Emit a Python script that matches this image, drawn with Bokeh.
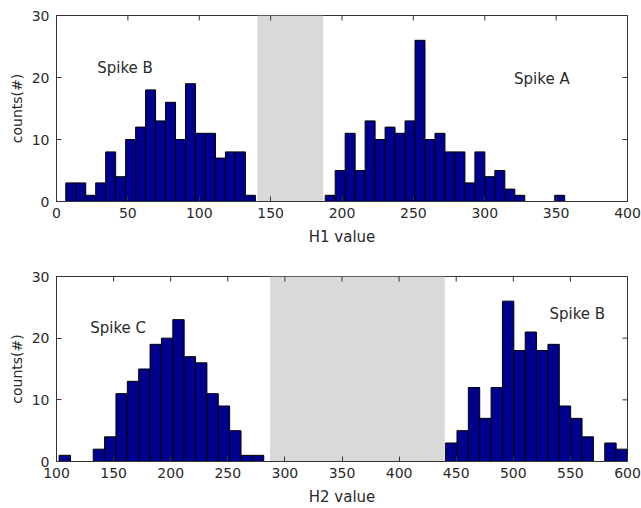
import numpy as np
from bokeh.plotting import figure
from bokeh.models import Range1d, FixedTicker, BoxAnnotation, Label
from bokeh.layouts import column
from bokeh.embed import file_html
from bokeh.resources import INLINE

# ---------------- data ----------------
# H1 histogram: 50 equal bins between min and max value
h1_min, h1_max = 6.5, 356.0
h1_counts = [3, 3, 1, 3, 8, 4, 10, 12, 18, 13, 16, 10, 19, 11, 11, 7, 8, 8, 1,
             0, 0, 0, 0, 0, 0, 0,
             1, 5, 11, 5, 13, 10, 12, 11, 13, 26, 10, 11, 8, 8, 3, 8, 4, 5, 2, 1,
             0, 0, 0, 1]
h1_gap = [140.7, 186.8]
h1_ticks = [0, 50, 100, 150, 200, 250, 300, 350, 400]
h1_labels = ["Spike B", "Spike A"]
h1_label_x = [48, 340]
h1_label_y = [21.5, 19.8]

# H2 histogram: 50 equal bins between min and max value
h2_min, h2_max = 102.3, 600.0
h2_counts = [1, 0, 0, 2, 4, 11, 13, 15, 19, 20, 23, 17, 16, 11, 9, 5, 1, 1,
             0, 0, 0, 0, 0, 0, 0, 0, 0, 0, 0, 0, 0, 0, 0, 0,
             3, 5, 12, 7, 12, 26, 18, 21, 18, 19, 9, 7, 4, 0, 3, 2]
h2_gap = [287.0, 440.0]
h2_ticks = [100, 150, 200, 250, 300, 350, 400, 450, 500, 550, 600]
h2_labels = ["Spike C", "Spike B"]
h2_label_x = [154, 556]
h2_label_y = [21.6, 23.9]

y_ticks = [0, 10, 20, 30]
y_max = 30

FONT = "DejaVu Sans"
TXT = "#2a2a2a"
BAR = "#00008F"
GRAY = "#D9D9D9"
AX = "#333333"


def make_hist(counts, vmin, vmax, xr, xticks, gap, xlabel, labels, lx, ly,
              height, b_top, b_bottom):
    edges = np.linspace(vmin, vmax, len(counts) + 1)
    p = figure(width=641, height=height, output_backend="svg",
               toolbar_location=None,
               x_range=Range1d(xr[0], xr[1]), y_range=Range1d(0, y_max),
               min_border_left=56, min_border_right=14,
               min_border_top=b_top, min_border_bottom=b_bottom)
    p.xgrid.visible = False
    p.ygrid.visible = False
    p.outline_line_color = AX
    p.outline_line_width = 1
    p.background_fill_color = "white"

    p.add_layout(BoxAnnotation(left=gap[0], right=gap[1], fill_color=GRAY,
                               fill_alpha=1, line_color=None, level="underlay"))
    p.quad(left=edges[:-1], right=edges[1:], bottom=0, top=counts,
           fill_color=BAR, line_color="#000000", line_width=1)

    # inward ticks on the top and right edges of the box (MATLAB style)
    p.scatter(x=xticks, y=[y_max] * len(xticks), marker="dash", size=10,
              angle=np.pi / 2, line_color=AX, line_width=1)
    p.scatter(x=[xr[1]] * len(y_ticks), y=y_ticks, marker="dash", size=10,
              line_color=AX, line_width=1)

    for t, x, y in zip(labels, lx, ly):
        p.add_layout(Label(x=x, y=y, text=t, text_align="center",
                           text_baseline="middle", text_font=FONT,
                           text_font_size="15px", text_color=TXT))

    for ax in (p.xaxis[0], p.yaxis[0]):
        ax.major_tick_in = 5
        ax.major_tick_out = 0
        ax.minor_tick_line_color = None
        ax.axis_line_color = AX
        ax.major_tick_line_color = AX
        ax.major_label_text_font = FONT
        ax.major_label_text_font_size = "14px"
        ax.major_label_text_color = TXT
        ax.axis_label_text_font = FONT
        ax.axis_label_text_font_style = "normal"
        ax.axis_label_text_color = TXT
    p.xaxis[0].ticker = FixedTicker(ticks=xticks)
    p.yaxis[0].ticker = FixedTicker(ticks=y_ticks)
    p.xaxis[0].axis_label = xlabel
    p.xaxis[0].axis_label_text_font_size = "15px"
    p.xaxis[0].major_label_standoff = 6
    p.xaxis[0].axis_label_standoff = 7
    p.yaxis[0].axis_label = "counts(#)"
    p.yaxis[0].axis_label_text_font_size = "14px"
    p.yaxis[0].major_label_standoff = 7
    p.yaxis[0].axis_label_standoff = 4
    return p


p1 = make_hist(h1_counts, h1_min, h1_max, (0, 400), h1_ticks, h1_gap,
               "H1 value", h1_labels, h1_label_x, h1_label_y,
               height=250, b_top=15, b_bottom=49)
p2 = make_hist(h2_counts, h2_min, h2_max, (100, 600), h2_ticks, h2_gap,
               "H2 value", h2_labels, h2_label_x, h2_label_y,
               height=258, b_top=26, b_bottom=46)

layout = column(p1, p2, spacing=0)
open("out.html", "w").write(file_html(layout, INLINE))
